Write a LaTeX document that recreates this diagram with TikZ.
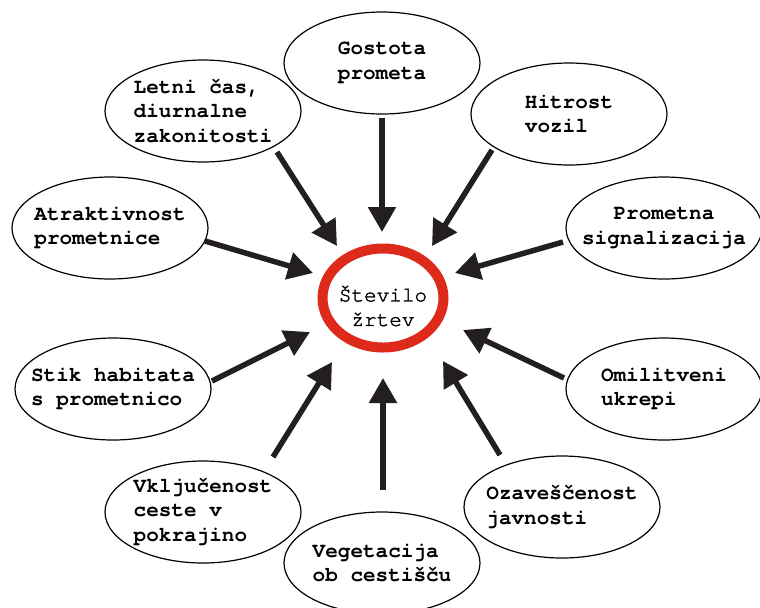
\documentclass[tikz,border=0pt]{standalone}
\usepackage{fontspec}
\usepackage{tikz}
\usepackage{xcolor}
\usetikzlibrary{arrows.meta}
\newfontfamily\labelfont{texgyrecursor}[Extension=.otf, UprightFont=*-regular, BoldFont=*-bold]
\newfontfamily\hubfont{texgyrecursor}[Extension=.otf, UprightFont=*-regular, UprightFeatures={FakeBold=1.6}]
\definecolor{ringred}{RGB}{221,42,27}
\definecolor{inkblack}{RGB}{35,31,32}

\begin{document}
\begin{tikzpicture}[x=0.5pt, y=-0.5pt,
        factor/.style={font=\labelfont\bfseries\fontsize{10.5pt}{12.25pt}\selectfont, align=left, inner sep=0pt},
        hub/.style={font=\hubfont\fontsize{10.5pt}{12.25pt}\selectfont, align=center, inner sep=0pt},
        rim/.style={draw=black, line width=0.6pt},
        ring/.style={draw=ringred, line width=5pt},
        pointer/.style={draw=inkblack, line width=2.75pt, -{Triangle[length=12.5pt, width=13.5pt]}}]
        \useasboundingbox (0,0) rectangle (760,607);

        \node[hub] (zrtve) at (383,306) {Število\\žrtev};
        \coordinate (ringc) at (383,298);
        \draw[ring] (ringc) ellipse [x radius=60.5, y radius=49.5];

        \node[factor] (gostota) at (382,63) {Gostota\\prometa};
        \node[factor] (letni) at (203,111) {Letni čas,\\diurnalne\\zakonitosti};
        \node[factor] (hitrost) at (569,114) {Hitrost\\vozil};
        \node[factor] (atraktivnost) at (110,228) {Atraktivnost\\prometnice};
        \node[factor, align=center] (prometna) at (664,228) {Prometna\\signalizacija};
        \node[factor] (stik) at (113,389) {Stik habitata\\s prometnico};
        \node[factor] (omilitveni) at (664,389) {Omilitveni\\ukrepi};
        \node[factor] (vkljucenost) at (203,512) {Vključenost\\ceste v\\pokrajino};
        \node[factor] (vegetacija) at (382,563) {Vegetacija\\ob cestišču};
        \node[factor] (ozavescenost) at (562,507) {Ozaveščenost\\javnosti};

        \foreach \f in {gostota,letni,hitrost,atraktivnost,prometna,stik,omilitveni,vkljucenost,vegetacija,ozavescenost}
            \draw[rim] (\f.center) ellipse [x radius=98, y radius=51];

        \coordinate (gostota-out) at (382,118);
        \coordinate (gostota-in) at (382,232);
        \coordinate (letni-out) at (277,152);
        \coordinate (letni-in) at (337,246);
        \coordinate (hitrost-out) at (492,150);
        \coordinate (hitrost-in) at (432,246);
        \coordinate (atraktivnost-out) at (205,241);
        \coordinate (atraktivnost-in) at (313,273);
        \coordinate (prometna-out) at (563,242);
        \coordinate (prometna-in) at (455,273);
        \coordinate (stik-out) at (212,381);
        \coordinate (stik-in) at (310,332);
        \coordinate (omilitveni-out) at (564,378);
        \coordinate (omilitveni-in) at (463,330);
        \coordinate (vkljucenost-out) at (273,457);
        \coordinate (vkljucenost-in) at (332,362);
        \coordinate (vegetacija-out) at (383,490);
        \coordinate (vegetacija-in) at (383,378);
        \coordinate (ozavescenost-out) at (500,455);
        \coordinate (ozavescenost-in) at (443,361);

        \foreach \f in {gostota,letni,hitrost,atraktivnost,prometna,stik,omilitveni,vkljucenost,vegetacija,ozavescenost}
            \draw[pointer] (\f-out) -- (\f-in);
    \end{tikzpicture}
\end{document}
